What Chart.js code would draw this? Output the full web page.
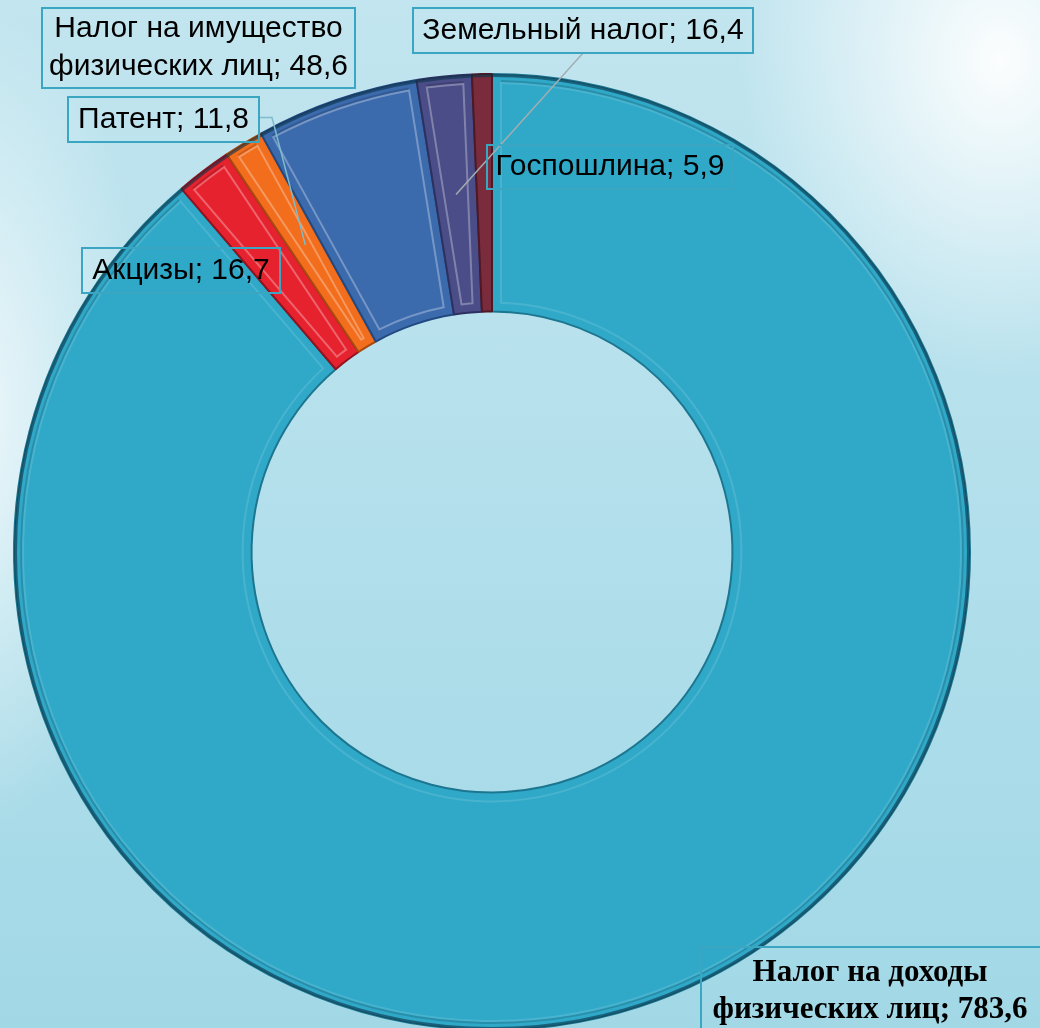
<!DOCTYPE html>
<html>
<head>
<meta charset="utf-8">
<script src="https://cdn.jsdelivr.net/npm/chart.js@4/dist/chart.umd.min.js"></script>
<style>
  html, body { margin: 0; padding: 0; overflow: hidden; }
  body {
    width: 1040px; height: 1028px;
    background:
      radial-gradient(ellipse 260px 320px at 1000px 60px, rgba(255,255,255,0.95), rgba(255,255,255,0) 100%),
      radial-gradient(ellipse 200px 420px at -40px 420px, rgba(255,255,255,0.8), rgba(255,255,255,0) 100%),
      linear-gradient(180deg, #c2e5ef 0%, #b4e0ec 45%, #a2d8e6 100%);
  }
  #wrap { position: relative; width: 1040px; height: 1100px; }
</style>
</head>
<body>
<div id="wrap"><canvas id="pie"></canvas></div>
<script>
// categories, clockwise from 12 o'clock
const categories = [
  'Налог на доходы физических лиц',
  'Акцизы',
  'Патент',
  'Налог на имущество физических лиц',
  'Земельный налог',
  'Госпошлина'
]
const values = [783.6, 16.7, 11.8, 48.6, 16.4, 5.9]

const fillColors = ['#30a9c9', '#e6222f', '#f26d1c', '#3b6aad', '#4a4d87', '#7a2c3c']
const edgeColors = ['#1d7690', '#8f1420', '#a8480f', '#234a80', '#2e3160', '#4e1824']

// how each value reads in the labels: "name; 16,7"
function labelText (i) {
  return categories[i] + '; ' + values[i].toFixed(1).replace('.', ',')
}

// label boxes (position and look only)
const sansFont = '30px "Liberation Sans", Arial, sans-serif'
const boxes = [
  { idx: 0, x: 701, y: 947, w: 350, h: 100, font: 'bold 31px "Liberation Serif", "Times New Roman", serif', lineH: 37, textX: 870, textY: 973 },
  { idx: 1, x: 82, y: 248, w: 198, h: 45, font: sansFont },
  { idx: 2, x: 68, y: 97, w: 191, h: 45, font: sansFont, leader: 'right' },
  { idx: 3, x: 42, y: 8, w: 313, h: 80, font: sansFont, lineH: 38 },
  { idx: 4, x: 413, y: 8, w: 340, h: 45, font: sansFont, leader: 'bottom', leaderX: 583 },
  { idx: 5, x: 487, y: 145, w: 246, h: 44, font: sansFont }
]

function wrapLines (ctx, text, maxW) {
  const words = text.split(' ')
  let lines = []
  let cur = ''
  words.forEach(w => {
    const test = cur ? cur + ' ' + w : w
    if (ctx.measureText(test).width > maxW && cur) {
      lines.push(cur)
      cur = w
    } else {
      cur = test
    }
  })
  lines.push(cur)
  return lines
}

// bevel highlight on every slice
const bevelPlugin = {
  id: 'bevel',
  afterDatasetsDraw (chart) {
    const ctx = chart.ctx
    const arcs = chart.getDatasetMeta(0).data
    arcs.forEach((arc, i) => {
      const p = arc.getProps(['x', 'y', 'startAngle', 'endAngle', 'innerRadius', 'outerRadius'])
      const ro = p.outerRadius - 9
      const ri = p.innerRadius + 9
      const dO = 9 / ro
      const dI = 9 / ri
      if (p.endAngle - p.startAngle > 2 * dI + 0.005) {
        ctx.save()
        ctx.beginPath()
        ctx.arc(p.x, p.y, ro, p.startAngle + dO, p.endAngle - dO)
        ctx.arc(p.x, p.y, ri, p.endAngle - dI, p.startAngle + dI, true)
        ctx.closePath()
        ctx.lineWidth = 2
        ctx.strokeStyle = i == 0 ? 'rgba(255,255,255,0.12)' : 'rgba(255,255,255,0.3)'
        ctx.stroke()
        ctx.lineWidth = 2
        ctx.strokeStyle = 'rgba(0,0,0,0.15)'
        ctx.beginPath()
        ctx.arc(p.x, p.y, ro + 2, p.startAngle + dO, p.endAngle - dO)
        ctx.stroke()
        ctx.restore()
      }
      // dark rim on the outside
      ctx.save()
      ctx.beginPath()
      ctx.arc(p.x, p.y, p.outerRadius - 1.5, p.startAngle, p.endAngle)
      ctx.lineWidth = 3
      ctx.strokeStyle = 'rgba(10,50,70,0.6)'
      ctx.stroke()
      ctx.restore()
    })
  }
}

// boxed labels with leader lines
const boxLabelPlugin = {
  id: 'boxLabels',
  afterDraw (chart) {
    const ctx = chart.ctx
    const arcs = chart.getDatasetMeta(0).data
    boxes.forEach(b => {
      const arc = arcs[b.idx]
      const c = arc.tooltipPosition()
      ctx.save()
      // leader line
      if (b.leader) {
        ctx.beginPath()
        if (b.leader == 'right') {
          const ly = b.y + b.h / 2 - 2
          ctx.moveTo(b.x + b.w, ly)
          ctx.lineTo(b.x + b.w + 13, ly)
          ctx.strokeStyle = '#7cbccc'
        } else {
          ctx.moveTo(b.leaderX, b.y + b.h)
          ctx.strokeStyle = '#a3adb1'
        }
        ctx.lineTo(c.x, c.y)
        ctx.lineWidth = 1.5
        ctx.stroke()
      }
      ctx.strokeStyle = '#3ba6c2'
      ctx.lineWidth = 2
      ctx.strokeRect(b.x, b.y, b.w, b.h)
      ctx.font = b.font
      ctx.fillStyle = '#000'
      ctx.textAlign = 'center'
      ctx.textBaseline = 'middle'
      const lines = wrapLines(ctx, labelText(b.idx), b.w - 12)
      const lh = b.lineH || 34
      const tx = b.textX || b.x + b.w / 2
      const ty = b.textY || b.y + b.h / 2 - (lines.length - 1) * lh / 2
      lines.forEach((ln, k) => ctx.fillText(ln, tx, ty + k * lh))
      ctx.restore()
    })
  }
}

const canvas = document.getElementById('pie')
canvas.width = 1040
canvas.height = 1100
canvas.style.width = '1040px'
canvas.style.height = '1100px'

new Chart(canvas, {
  type: 'doughnut',
  data: {
    labels: categories,
    datasets: [{
      data: values,
      backgroundColor: fillColors,
      borderColor: edgeColors,
      borderWidth: 2
    }]
  },
  options: {
    responsive: false,
    animation: false,
    cutout: '50.3%',
    rotation: 0,
    layout: { padding: { left: 13, right: 69, top: 73, bottom: 69 } },
    plugins: {
      legend: { display: false },
      tooltip: { enabled: false }
    }
  },
  plugins: [bevelPlugin, boxLabelPlugin]
})
</script>
</body>
</html>
